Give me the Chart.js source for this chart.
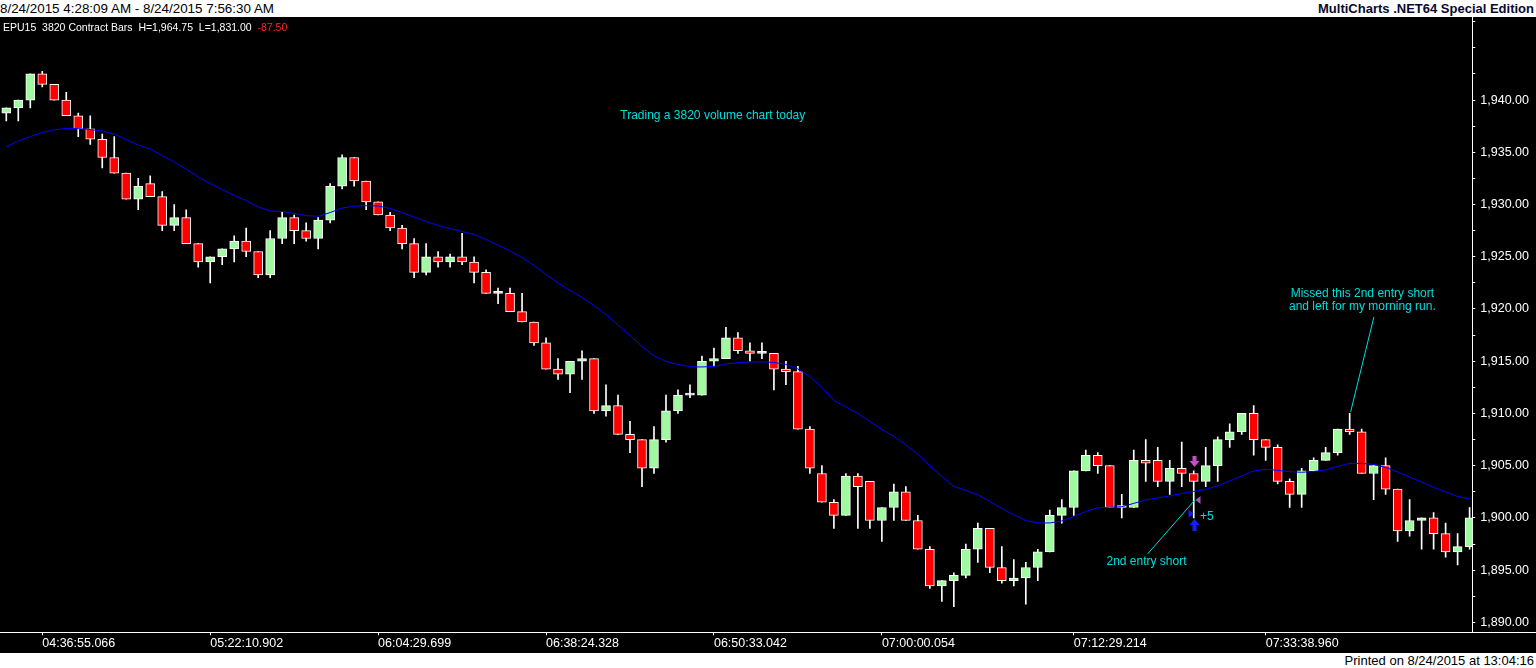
<!DOCTYPE html>
<html>
<head>
<meta charset="utf-8">
<script src="https://cdn.jsdelivr.net/npm/chart.js@4.4.1/dist/chart.umd.min.js"></script>
<style>
html, body { margin: 0; padding: 0; width: 1536px; height: 668px; overflow: hidden; background: #fff;
  font-family: "Liberation Sans", Arial, sans-serif; }
#top { position: relative; height: 17px; background: #fff; }
#range { position: absolute; left: 0; top: 0; font-size: 13.4px; line-height: 17px; color: #000; }
#brand { position: absolute; right: 2px; top: 0; font-size: 13px; font-weight: bold; line-height: 17px; color: #0a0a30; }
#wrap { position: relative; width: 1536px; height: 636px; background: #000; }
#info { position: absolute; left: 3px; top: 3px; font-size: 10.5px; line-height: 14px; color: #fff; white-space: pre; }
#info span { color: #ff2020; }
#bottom { position: relative; height: 15px; background: #fff; }
#printed { position: absolute; right: 2px; top: 0; font-size: 13px; line-height: 15px; color: #000; }
canvas { display: block; }
</style>
</head>
<body>
<div id="top">
  <div id="range">8/24/2015 4:28:09 AM - 8/24/2015 7:56:30 AM</div>
  <div id="brand">MultiCharts .NET64 Special Edition</div>
</div>
<div id="wrap">
  <canvas id="mcChart" width="1536" height="636"></canvas>
  <div id="info">EPU15  3820 Contract Bars  H=1,964.75  L=1,831.00  <span>-87.50</span></div>
</div>
<div id="bottom"><div id="printed">Printed on 8/24/2015 at 13:04:16</div></div>
<script>
// time axis: bar index of each labelled tick and its text
const tickIdx = [3, 17, 31, 45, 59, 73, 89, 105];
const tickTimes = ['04:36:55.066', '05:22:10.902', '06:04:29.699', '06:38:24.328',
                   '06:50:33.042', '07:00:00.054', '07:12:29.214', '07:33:38.960'];

// 3820 contract bars, EPU15
const open = [
  1938.75, 1939.25, 1940.00, 1942.50, 1941.50, 1940.00, 1938.50, 1937.25, 1936.25, 1934.50,
  1933.00, 1930.50, 1932.00, 1930.75, 1928.00, 1928.75, 1926.25, 1924.50, 1925.00, 1925.75,
  1926.50, 1925.50, 1923.25, 1926.75, 1928.75, 1927.50, 1926.75, 1928.50, 1931.75, 1934.50,
  1932.25, 1930.25, 1929.00, 1927.75, 1926.25, 1923.50, 1925.00, 1924.50, 1925.00, 1924.50,
  1923.50, 1921.50, 1921.50, 1919.75, 1918.75, 1916.75, 1914.25, 1913.75, 1915.00, 1915.25,
  1910.25, 1910.75, 1908.00, 1907.50, 1904.75, 1907.50, 1910.25, 1911.75, 1911.75, 1915.00,
  1915.25, 1917.25, 1916.00, 1915.75, 1915.75, 1914.25, 1914.00, 1908.50, 1904.25, 1901.50,
  1900.25, 1904.00, 1903.50, 1899.75, 1901.00, 1902.50, 1899.75, 1897.00, 1893.50, 1894.00,
  1894.50, 1897.00, 1899.00, 1895.25, 1894.00, 1894.25, 1895.25, 1896.75, 1900.25, 1901.00,
  1904.50, 1906.00, 1905.00, 1901.00, 1901.00, 1905.50, 1905.50, 1903.50, 1904.75, 1904.25,
  1903.50, 1905.00, 1907.50, 1908.25, 1910.00, 1907.50, 1906.75, 1903.50, 1902.25, 1904.50,
  1905.50, 1906.25, 1908.50, 1908.25, 1904.25, 1905.00, 1902.75, 1898.75, 1899.75, 1900.00,
  1898.50, 1896.75, 1897.25
];
const high = [
  1939.25, 1940.00, 1942.50, 1942.75, 1941.50, 1940.75, 1938.75, 1938.50, 1936.75, 1936.50,
  1933.00, 1932.50, 1932.75, 1931.25, 1930.00, 1929.50, 1926.25, 1925.00, 1925.75, 1927.00,
  1927.75, 1925.50, 1927.50, 1929.25, 1929.00, 1928.25, 1928.75, 1932.00, 1934.75, 1934.50,
  1932.25, 1930.25, 1929.25, 1928.00, 1926.75, 1926.25, 1925.50, 1925.25, 1927.25, 1925.00,
  1923.75, 1922.00, 1922.00, 1921.50, 1918.75, 1917.25, 1915.25, 1915.00, 1916.00, 1915.25,
  1912.75, 1911.75, 1909.25, 1907.50, 1908.75, 1911.75, 1912.25, 1912.75, 1915.50, 1916.25,
  1918.25, 1917.75, 1916.75, 1916.75, 1915.75, 1915.00, 1914.50, 1908.75, 1905.00, 1901.75,
  1904.25, 1904.25, 1903.50, 1901.00, 1903.25, 1903.00, 1900.25, 1897.25, 1894.00, 1894.75,
  1897.50, 1899.50, 1899.00, 1897.25, 1896.00, 1895.75, 1897.00, 1900.75, 1901.75, 1904.50,
  1906.50, 1906.25, 1905.00, 1902.25, 1906.50, 1907.50, 1906.75, 1905.50, 1907.25, 1904.50,
  1906.75, 1907.75, 1909.00, 1910.00, 1910.75, 1907.50, 1907.00, 1903.75, 1904.75, 1905.75,
  1906.75, 1908.50, 1910.00, 1908.50, 1905.00, 1905.75, 1902.75, 1901.75, 1900.00, 1900.50,
  1899.50, 1898.50, 1901.00
];
const low = [
  1938.00, 1938.00, 1939.25, 1941.25, 1940.00, 1938.50, 1936.50, 1935.75, 1933.50, 1933.00,
  1930.50, 1929.50, 1930.75, 1927.50, 1927.50, 1926.25, 1924.00, 1922.50, 1924.25, 1924.50,
  1925.00, 1923.00, 1923.00, 1926.25, 1926.25, 1926.50, 1925.75, 1928.25, 1931.50, 1931.75,
  1929.50, 1929.00, 1927.50, 1925.75, 1923.00, 1923.25, 1924.00, 1924.00, 1924.25, 1922.50,
  1921.50, 1920.50, 1919.75, 1918.75, 1916.50, 1914.25, 1913.25, 1912.00, 1913.25, 1910.00,
  1909.75, 1908.00, 1906.25, 1903.00, 1904.25, 1907.25, 1910.00, 1911.50, 1911.75, 1914.50,
  1915.25, 1915.75, 1915.00, 1915.25, 1912.25, 1912.75, 1908.50, 1904.25, 1901.50, 1899.00,
  1900.25, 1899.00, 1899.00, 1897.75, 1899.75, 1899.75, 1897.00, 1893.25, 1892.00, 1891.50,
  1894.25, 1895.75, 1894.75, 1893.75, 1893.50, 1891.75, 1894.00, 1896.75, 1899.50, 1900.25,
  1904.50, 1904.25, 1901.00, 1900.00, 1901.00, 1903.50, 1903.00, 1902.25, 1903.00, 1900.00,
  1903.00, 1903.50, 1906.75, 1908.00, 1906.00, 1905.50, 1903.25, 1901.00, 1901.00, 1904.50,
  1905.50, 1906.00, 1908.00, 1904.25, 1901.75, 1902.25, 1897.75, 1898.25, 1897.00, 1897.00,
  1896.25, 1895.50, 1897.00
];
const close = [
  1939.25, 1940.00, 1942.50, 1941.50, 1940.00, 1938.50, 1937.25, 1936.25, 1934.50, 1933.00,
  1930.50, 1931.75, 1930.75, 1928.00, 1928.75, 1926.25, 1924.50, 1925.00, 1925.75, 1926.50,
  1925.50, 1923.25, 1926.75, 1928.75, 1927.50, 1926.75, 1928.50, 1931.75, 1934.50, 1932.25,
  1930.25, 1929.00, 1927.75, 1926.25, 1923.50, 1925.00, 1924.50, 1925.00, 1924.50, 1923.50,
  1921.50, 1921.50, 1919.75, 1918.75, 1916.75, 1914.25, 1913.75, 1915.00, 1915.25, 1910.25,
  1910.75, 1908.00, 1907.50, 1904.75, 1907.50, 1910.25, 1911.75, 1911.75, 1915.00, 1915.25,
  1917.25, 1916.00, 1915.75, 1915.75, 1914.25, 1914.00, 1908.50, 1904.75, 1901.50, 1900.25,
  1904.00, 1903.00, 1899.75, 1901.00, 1902.50, 1899.75, 1897.00, 1893.50, 1894.00, 1894.50,
  1897.00, 1899.00, 1895.25, 1894.00, 1894.25, 1895.25, 1896.75, 1900.25, 1901.00, 1904.50,
  1906.00, 1905.00, 1901.00, 1901.00, 1905.50, 1905.25, 1903.50, 1904.75, 1904.25, 1903.50,
  1905.00, 1907.50, 1908.25, 1910.00, 1907.50, 1906.75, 1903.50, 1902.25, 1904.50, 1905.50,
  1906.25, 1908.50, 1908.25, 1904.25, 1905.00, 1902.75, 1898.75, 1899.75, 1900.00, 1898.50,
  1896.75, 1897.25, 1900.00
];
// blue average line at each bar
const avg = [
  1935.53, 1936.08, 1936.51, 1936.89, 1937.15, 1937.29, 1937.27, 1937.18, 1937.03, 1936.75,
  1936.22, 1935.69, 1935.31, 1934.69, 1934.07, 1933.40, 1932.63, 1932.01, 1931.44, 1930.86,
  1930.38, 1929.76, 1929.38, 1929.33, 1929.14, 1928.95, 1928.87, 1929.23, 1929.67, 1929.84,
  1929.89, 1929.86, 1929.62, 1929.23, 1928.80, 1928.37, 1927.99, 1927.70, 1927.42, 1927.13,
  1926.65, 1926.12, 1925.55, 1924.93, 1924.16, 1923.30, 1922.49, 1921.77, 1921.10, 1920.33,
  1919.47, 1918.47, 1917.46, 1916.41, 1915.50, 1914.98, 1914.69, 1914.47, 1914.45, 1914.50,
  1914.74, 1914.86, 1914.93, 1914.93, 1914.88, 1914.69, 1914.26, 1913.52, 1912.49, 1911.24,
  1910.62, 1910.00, 1909.22, 1908.47, 1907.80, 1906.99, 1906.08, 1904.98, 1903.97, 1903.01,
  1902.63, 1902.20, 1901.58, 1900.91, 1900.29, 1899.76, 1899.52, 1899.52, 1899.71, 1900.13,
  1900.62, 1900.96, 1901.03, 1901.07, 1901.39, 1901.72, 1901.91, 1902.11, 1902.34, 1902.54,
  1902.73, 1903.06, 1903.54, 1904.02, 1904.50, 1904.66, 1904.55, 1904.42, 1904.37, 1904.45,
  1904.59, 1904.93, 1905.22, 1905.22, 1905.12, 1904.83, 1904.40, 1903.92, 1903.44, 1902.92,
  1902.49, 1902.06, 1901.82
];

const UP = '#a0f8a0', DOWN = '#ff0000', CYAN = '#00dede';
const FONT = '"Liberation Sans", Arial, sans-serif';
const signalBar = 99;

Chart.defaults.font.family = FONT;

// annotations, trade arrows and the full-width time axis line
const notes = {
  id: 'notes',
  afterDatasetsDraw(chart) {
    const { ctx, chartArea, scales: { x, y } } = chart;
    const X = v => x.getPixelForValue(v);
    const Y = v => y.getPixelForValue(v);
    ctx.save();

    // pointer lines
    ctx.strokeStyle = CYAN;
    ctx.lineWidth = 1;
    ctx.beginPath();
    ctx.moveTo(X(95.16), Y(1896.56));
    ctx.lineTo(X(99.10), Y(1901.72));
    ctx.moveTo(X(114.02), Y(1919.23));
    ctx.lineTo(X(112.08), Y(1910.14));
    ctx.stroke();

    ctx.fillStyle = CYAN;
    ctx.font = '12px ' + FONT;
    ctx.textAlign = 'center';
    ctx.textBaseline = 'middle';
    ctx.fillText('Trading a 3820 volume chart today', X(58.9), Y(1938.47));
    ctx.fillText('Missed this 2nd entry short', X(113.06), Y(1921.44));
    ctx.fillText('and left for my morning run.', X(113.06), Y(1920.19));
    ctx.fillText('2nd entry short', X(95.06), Y(1895.79));
    ctx.textAlign = 'left';
    ctx.fillText('+5', X(99.52), Y(1900.10));

    // short entry arrow above the signal bar, cover arrow below it
    const cx = Math.round(X(signalBar)) + 0.5;
    const hy = Y(high[signalBar]);
    const ly = Y(low[signalBar]);
    ctx.fillStyle = '#c050c8';
    ctx.beginPath();
    ctx.moveTo(cx - 2, hy - 15);
    ctx.lineTo(cx + 2, hy - 15);
    ctx.lineTo(cx + 2, hy - 10);
    ctx.lineTo(cx + 5, hy - 10);
    ctx.lineTo(cx, hy - 4);
    ctx.lineTo(cx - 5, hy - 10);
    ctx.lineTo(cx - 2, hy - 10);
    ctx.closePath();
    ctx.fill();

    ctx.fillStyle = '#1020ff';
    ctx.beginPath();
    ctx.moveTo(cx, ly + 1);
    ctx.lineTo(cx + 5, ly + 7);
    ctx.lineTo(cx + 2, ly + 7);
    ctx.lineTo(cx + 2, ly + 13);
    ctx.lineTo(cx - 2, ly + 13);
    ctx.lineTo(cx - 2, ly + 7);
    ctx.lineTo(cx - 5, ly + 7);
    ctx.closePath();
    ctx.fill();

    // entry / exit ticks
    const ey = Y(1901.72);
    ctx.fillStyle = '#b050c0';
    ctx.beginPath();
    ctx.moveTo(cx + 1, ey);
    ctx.lineTo(cx + 6, ey - 4);
    ctx.lineTo(cx + 6, ey + 4);
    ctx.closePath();
    ctx.fill();
    const sy = Y(1900.40);
    ctx.fillStyle = '#1020ff';
    ctx.beginPath();
    ctx.moveTo(cx - 1, sy);
    ctx.lineTo(cx - 6, sy - 4);
    ctx.lineTo(cx - 6, sy + 4);
    ctx.closePath();
    ctx.fill();

    // time axis line runs under the price labels too
    ctx.strokeStyle = '#ffffff';
    ctx.beginPath();
    ctx.moveTo(0, Math.round(chartArea.bottom) + 0.5);
    ctx.lineTo(chart.width, Math.round(chartArea.bottom) + 0.5);
    ctx.stroke();
    ctx.restore();
  }
};

const ctx = document.getElementById('mcChart').getContext('2d');
const mcChart = new Chart(ctx, {
  type: 'bar',
  data: {
    datasets: [
      {
        type: 'line',
        label: 'Average',
        data: avg.map((v, i) => ({ x: i, y: v })),
        borderColor: '#0000ff',
        borderWidth: 1,
        pointRadius: 0,
        tension: 0,
        order: 0
      },
      {
        label: 'Body',
        data: open.map((o, i) => ({ x: i, y: [o, close[i]] })),
        backgroundColor: open.map((o, i) => close[i] > o ? UP : close[i] < o ? DOWN : '#ffffff'),
        borderColor: '#ffffff',
        borderWidth: 1,
        borderSkipped: false,
        barThickness: 9,
        minBarLength: 2,
        grouped: false,
        order: 1
      },
      {
        label: 'Range',
        data: low.map((l, i) => ({ x: i, y: [l, high[i]] })),
        backgroundColor: '#ffffff',
        barThickness: 1,
        grouped: false,
        order: 2
      }
    ]
  },
  options: {
    responsive: false,
    animation: false,
    events: [],
    layout: { padding: 0 },
    plugins: {
      legend: { display: false },
      tooltip: { enabled: false }
    },
    scales: {
      x: {
        type: 'linear',
        min: -0.525,
        max: 122.225,
        offset: false,
        grid: { drawOnChartArea: false, offset: false, tickLength: 3, tickColor: '#ffffff' },
        border: { display: false },
        afterBuildTicks: s => { s.ticks = tickIdx.map(v => ({ value: v })); },
        afterFit: s => { s.height = 20.7; s.paddingLeft = 0; s.paddingRight = 0; },
        ticks: {
          color: '#ffffff',
          font: { size: 12.5 },
          align: 'start',
          padding: 1,
          maxRotation: 0,
          autoSkip: false,
          callback: v => tickTimes[tickIdx.indexOf(v)] || ''
        }
      },
      y: {
        position: 'right',
        min: 1889.05,
        max: 1947.95,
        beginAtZero: false,
        grid: { drawOnChartArea: false, tickLength: 3, tickColor: '#ffffff' },
        border: { color: '#ffffff', width: 1 },
        afterFit: s => { s.width = 63.7; s.paddingTop = 0; s.paddingBottom = 0; },
        ticks: {
          stepSize: 2.5,
          includeBounds: false,
          autoSkip: false,
          color: '#ffffff',
          font: { size: 12.5 },
          padding: 5,
          callback: v => {
            const major = Math.abs(v / 5 - Math.round(v / 5)) < 1e-6;
            return major && v <= 1940 ? v.toLocaleString('en-US', { minimumFractionDigits: 2, maximumFractionDigits: 2 }) : '';
          }
        }
      }
    }
  },
  plugins: [notes]
});
</script>
</body>
</html>
